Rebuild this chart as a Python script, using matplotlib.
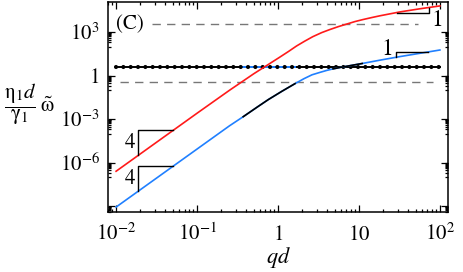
import numpy as np
import matplotlib
matplotlib.use('Agg')
import matplotlib.pyplot as plt
from matplotlib.ticker import FixedLocator, NullFormatter

# values, as log10(qd) and log10(omega)
red_lq = [-2.0, -1.5, -1.0, -0.6, -0.3, -0.14, 0.02, 0.13, 0.23, 0.33, 0.43, 0.54,
          0.64, 0.75, 0.85, 0.95, 1.05, 1.16, 1.26, 1.5, 1.75, 2.0]
red_lw = [-6.6, -4.6, -2.6, -1.02, 0.12, 0.69, 1.26, 1.66, 2.04, 2.37, 2.68, 2.96,
          3.17, 3.38, 3.55, 3.72, 3.86, 4.0, 4.12, 4.38, 4.6, 4.8]

blue_lq = [-2.0, -1.5, -1.0, -0.6, -0.43, -0.25, -0.12, 0.05, 0.21, 0.32, 0.42, 0.52,
           0.6, 0.68, 0.77, 0.88, 0.96, 1.04, 1.26, 1.5, 1.75, 2.0]
blue_lw = [-9.07, -7.07, -5.07, -3.47, -2.84, -2.15, -1.66, -1.08, -0.56, -0.22, 0.05, 0.22,
           0.35, 0.46, 0.56, 0.67, 0.75, 0.83, 1.06, 1.3, 1.53, 1.76]
# index ranges of the lower branch drawn in black
black_parts = [(4, 8), (13, 17)]

plateau_q = [0.01, 100]
plateau_w = 4.05
swap_q = [0.372, 1.62]          # plateau drawn blue here

upper_dash_q = [0.028, 53]
upper_dash_w = 3550
lower_dash_q = [0.0112, 82]
lower_dash_w = 0.355

slope4_q = [0.0187, 0.0508]
red_slope1_q = [29.4, 73]
blue_slope1_q = [28.6, 71]

xticks = [1e-2, 1e-1, 1, 10, 1e2]
xticklabels = [r'$10^{-2}$', r'$10^{-1}$', r'$1$', r'$10$', r'$10^{2}$']
yticks = [1e-9, 1e-6, 1e-3, 1, 1e3]
yticklabels = ['', r'$10^{-6}$', r'$10^{-3}$', r'$1$', r'$10^{3}$']

RED = '#ff1a1a'
BLUE = '#2080ff'

plt.rcParams['font.family'] = ['STIXGeneral', 'DejaVu Serif']
plt.rcParams['mathtext.fontset'] = 'stix'

fig = plt.figure(figsize=(4.63, 2.72), dpi=100)
ax = fig.add_axes([108/463, 60/272, 340/463, 210/272])

red_q = 10**np.array(red_lq)
red_w = 10**np.array(red_lw)
blue_q = 10**np.array(blue_lq)
blue_w = 10**np.array(blue_lw)

# dashed reference levels
ax.plot(upper_dash_q, [upper_dash_w]*2, color='#777777', lw=1.0, ls=(0, (6, 4.5)))
ax.plot(lower_dash_q, [lower_dash_w]*2, color='#777777', lw=1.0, ls=(0, (6, 4.5)))

# plateau: line, blue stretch, then dots
ax.plot(plateau_q, [plateau_w]*2, color='black', lw=1.4)
ax.plot(swap_q, [plateau_w]*2, color=BLUE, lw=1.4)
ax.plot(plateau_q, [plateau_w]*2, color='black', lw=3.0,
        ls=(0, (0.01, 1.75)), dash_capstyle='round')

ax.plot(red_q, red_w, color=RED, lw=1.2)
ax.plot(blue_q, blue_w, color=BLUE, lw=1.2)
for i0, i1 in black_parts:
    ax.plot(blue_q[i0:i1+1], blue_w[i0:i1+1], color='black', lw=1.2)

# slope triangles
def curve_at(q, cq, cw):
    return 10**np.interp(np.log10(q), np.log10(cq), np.log10(cw))

for cq, cw in [(red_q, red_w), (blue_q, blue_w)]:
    qa, qb = slope4_q
    wa, wb = curve_at(qa, cq, cw), curve_at(qb, cq, cw)
    ax.plot([qa, qa, qb], [wa, wb, wb], color='black', lw=1.0)
    ax.annotate('4', xy=(qa, np.sqrt(wa*wb)), xytext=(-2, 0), textcoords='offset points',
                ha='right', va='center', fontsize=15)

qa, qb = red_slope1_q
wa, wb = curve_at(qa, red_q, red_w), curve_at(qb, red_q, red_w)
ax.plot([qa, qb, qb], [wa, wa, wb], color='black', lw=1.0)
ax.annotate('1', xy=(qb, wa), xytext=(2, 2), textcoords='offset points',
            ha='left', va='top', fontsize=17)

qa, qb = blue_slope1_q
wa, wb = curve_at(qa, blue_q, blue_w), curve_at(qb, blue_q, blue_w)
ax.plot([qa, qa, qb], [wa, wb, wb], color='black', lw=1.0)
ax.annotate('1', xy=(qa, wb), xytext=(-2, 2), textcoords='offset points',
            ha='right', va='center', fontsize=17)

ax.text(0.065, 0.895, '(C)', transform=ax.transAxes, ha='center', va='center', fontsize=15)

ax.set_xscale('log')
ax.set_yscale('log')
ax.set_xlim(10**-2.1, 10**2.1)
ax.set_ylim(10**-9.41, 10**5.07)

ax.xaxis.set_major_locator(FixedLocator(xticks))
ax.set_xticklabels(xticklabels)
xminor = [m * 10.0**k for k in range(-3, 3) for m in range(2, 10)]
ax.xaxis.set_minor_locator(FixedLocator(xminor))
ax.xaxis.set_minor_formatter(NullFormatter())

ax.yaxis.set_major_locator(FixedLocator(yticks))
ax.set_yticklabels(yticklabels)
yminor = [m * t / 10 for t in yticks for m in range(1, 10)]
ax.yaxis.set_minor_locator(FixedLocator(yminor))
ax.yaxis.set_minor_formatter(NullFormatter())

ax.tick_params(which='both', direction='in', top=True, right=True, width=0.9)
ax.tick_params(which='major', length=5)
ax.tick_params(which='minor', length=2.5)
ax.tick_params(axis='x', which='major', labelsize=15, pad=20)
ax.tick_params(axis='y', which='major', labelsize=15, pad=6)
for lab in ax.get_xticklabels():
    lab.set_verticalalignment('baseline')
for sp in ax.spines.values():
    sp.set_linewidth(1.1)

ax.set_xlabel(r'$qd$', fontsize=16, labelpad=0)
ax.set_ylabel(r'$\dfrac{\mathrm{η}_1 d}{\mathrm{γ}_1}\;\tilde{\mathrm{ω}}$', fontsize=15,
              rotation=0, ha='center', va='center')
ax.yaxis.set_label_coords((29 - 108) / 340, (212 - 104) / 210)

fig.savefig('out.png', dpi=100)
